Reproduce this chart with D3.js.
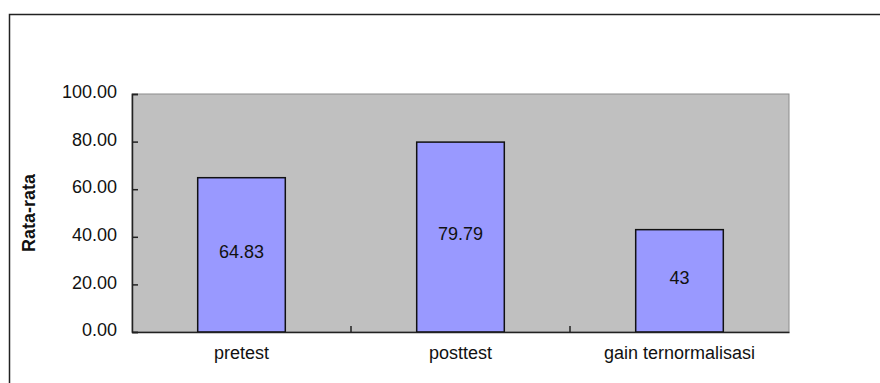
<!DOCTYPE html>
<html>
<head>
<meta charset="utf-8">
<script src="https://cdn.jsdelivr.net/npm/d3@7"></script>
<style>
  body { margin: 0; background: #fff; }
  svg { display: block; font-family: "Liberation Sans", Arial, sans-serif; }
</style>
</head>
<body>
<script>
const categories = ["pretest", "posttest", "gain ternormalisasi"];
const values = [64.83, 79.79, 43];
const valueLabels = ["64.83", "79.79", "43"];
const yTicks = [0, 20, 40, 60, 80, 100];

const w = 880, h = 383,
  plot = {left: 132, right: 789, top: 94, bottom: 332};

const svg = d3.select("body").append("svg")
  .attr("width", w)
  .attr("height", h);

// outer chart frame (runs off the right and bottom edge)
svg.append("rect")
  .attr("x", 9.5).attr("y", 14.5)
  .attr("width", w).attr("height", h)
  .attr("fill", "none")
  .attr("stroke", "#222")
  .attr("stroke-width", 1.5);

const xScale = d3.scaleBand()
  .domain(categories)
  .range([plot.left, plot.right])
  .paddingInner(0)
  .paddingOuter(0);

const yScale = d3.scaleLinear()
  .domain([0, 100])
  .range([plot.bottom, plot.top]);

// plot area
svg.append("rect")
  .attr("x", plot.left).attr("y", plot.top)
  .attr("width", plot.right - plot.left)
  .attr("height", plot.bottom - plot.top)
  .attr("fill", "#c0c0c0")
  .attr("stroke", "#8c8c8c")
  .attr("stroke-width", 1);

const barW = xScale.bandwidth() * 0.4;

svg.selectAll("rect.bar")
  .data(values)
  .enter()
  .append("rect")
  .attr("class", "bar")
  .attr("x", (d, i) => xScale(categories[i]) + (xScale.bandwidth() - barW) / 2)
  .attr("y", d => yScale(d))
  .attr("width", barW)
  .attr("height", d => plot.bottom - yScale(d))
  .attr("fill", "#9999ff")
  .attr("stroke", "#111")
  .attr("stroke-width", 1.5);

svg.selectAll("text.val")
  .data(values)
  .enter()
  .append("text")
  .attr("class", "val")
  .attr("x", (d, i) => xScale(categories[i]) + xScale.bandwidth() / 2)
  .attr("y", d => (yScale(d) + plot.bottom) / 2 - 3)
  .attr("dy", "0.35em")
  .attr("text-anchor", "middle")
  .style("font-size", "18px")
  .attr("fill", "#111")
  .text((d, i) => valueLabels[i]);

// y axis: ticks point inward
const yAxis = d3.axisLeft(yScale)
  .tickValues(yTicks)
  .tickSize(-6)
  .tickPadding(15)
  .tickFormat(d3.format(".2f"));
const gy = svg.append("g")
  .attr("transform", "translate(" + plot.left + ",0)")
  .call(yAxis);
gy.select(".domain").attr("stroke", "#222").attr("stroke-width", 1.5);
gy.selectAll(".tick line").attr("stroke", "#222").attr("stroke-width", 1.5);
gy.selectAll("text").style("font-size", "18px").attr("fill", "#111")
  .attr("font-family", null).attr("dy", "0.2em");

// x axis: ticks at category boundaries, pointing up
const xAxis = d3.axisBottom(xScale).tickSize(0).tickPadding(14);
const gx = svg.append("g")
  .attr("transform", "translate(0," + plot.bottom + ")")
  .call(xAxis);
gx.select(".domain").attr("stroke", "#222").attr("stroke-width", 1.5);
gx.selectAll("text").style("font-size", "18px").attr("fill", "#111").attr("font-family", null);

gx.selectAll("line.sep")
  .data(categories.slice(1))
  .enter()
  .append("line")
  .attr("class", "sep")
  .attr("x1", d => xScale(d)).attr("x2", d => xScale(d))
  .attr("y1", 0).attr("y2", -6)
  .attr("stroke", "#222")
  .attr("stroke-width", 1.5);

svg.append("text")
  .attr("transform", "rotate(-90)")
  .attr("x", -(plot.top + plot.bottom) / 2)
  .attr("y", 35)
  .attr("text-anchor", "middle")
  .style("font-size", "18px")
  .style("font-weight", "bold")
  .attr("fill", "#111")
  .text("Rata-rata");
</script>
</body>
</html>
